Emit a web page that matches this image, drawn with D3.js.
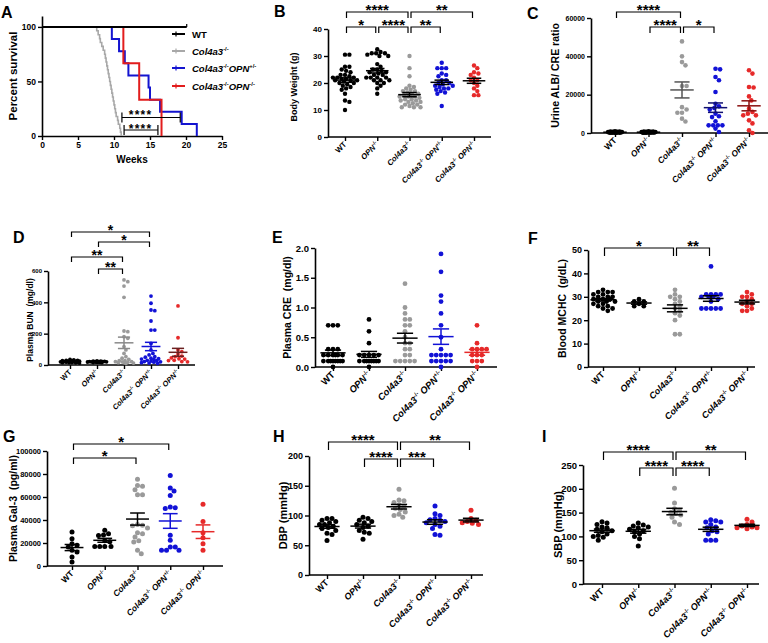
<!DOCTYPE html>
<html><head><meta charset="utf-8">
<script src="https://d3js.org/d3.v7.min.js"></script>
<style>
body{margin:0;background:#fff}
svg{display:block;font-family:"Liberation Sans",Arial,Helvetica,sans-serif}
text{font-weight:bold}
</style></head><body>
<svg id="fig" width="768" height="643"></svg>
<script>
// ================= DATA =================
const groups = ["WT","OPN-/-","Col4a3-/-","Col4a3-/- OPN+/-","Col4a3-/- OPN-/-"];
const groupColors = ["#000000","#000000","#9a9a9a","#1212d6","#e62a2a"];

// Panel A: Kaplan-Meier survival (death times in weeks)
const survivalNames = ["WT","Col4a3-/-","Col4a3-/-OPN+/-","Col4a3-/-OPN-/-"];
const survivalColors = ["#000000","#a8a8a8","#1414d0","#e21d1d"];
const survDeathWT = [];
const survCensorWT = [20.1];
const survDeathCol = [7.6,7.8,8.0,8.1,8.3,8.5,8.7,8.8,8.9,9.0,9.1,9.2,9.3,9.4,9.5,9.6,9.7,9.8,9.9,10.0,10.1,10.2,10.3,10.5,10.6,10.8,10.9,11.0];
const survDeathHet = [9.7,10.7,11.5,12.0,14.8,15.0,16.4,19.4,21.5];
const survDeathKO = [11.3,13.5,16.6];
const survWeekTicks = [0,5,10,15,20,25];
const survPctTicks = [0,50,100];
const survSig = [{from:11.1,to:19.2,starAt:13.6,label:"****",lvl:0},{from:11.4,to:16.1,starAt:13.6,label:"****",lvl:1}];

// Panel B: body weight (g)
const bodyWeight = [
  [30.5,30.5,26,26,25,24.5,24,23,23,22.5,22,22,22,21.5,21.5,21,21,21,20.5,20,20,19.5,19,18.5,18,17.5,16,13.5,13,10],
  [32.5,31.5,31,31,31,30.5,30,30,22,22,21,27,23,26,25,25,24.5,24,24,23.5,23,22,22,21,21,20,20,19,18,16],
  [30,25.5,22.5,19,18.5,18,17.5,17,17,16.5,16,16,15.5,15,15,15,14.5,14,14,13.5,13.5,13,13,12.5,12,12,11.5,11,11,11],
  [27.5,25.5,25.5,25.5,23.5,23,22.5,21,21,20,20,19.5,19,19,18.5,18,18,17.5,17,16.5,16,11.5],
  [26.5,25.5,24,23.5,23,22,21,21,20,19,18,17,15.5,15.5]
];
const bodyWeightSig = [{a:0,b:2,label:"****",lvl:0},{a:2,b:4,label:"**",lvl:0},{a:0,b:1,label:"*",lvl:1},{a:1,b:2,label:"****",lvl:1},{a:2,b:3,label:"**",lvl:1}];

// Panel C: urine ALB/CRE ratio
const urineACR = [
  [900,800,700,650,600,550,500,500,450,400,400,350,300,300,250,200,200,150,100,100],
  [850,800,700,600,600,550,500,450,400,400,350,300,300,250,200,200,150,100],
  [47800,40000,37000,35300,24500,24500,13500,12300,10600,10600,7500,6000],
  [33500,33200,29200,27500,21400,15300,13900,13000,12200,10100,8700,8300,6100,4000,4000,4000,4000,2300,500],
  [32700,31000,24000,23700,19100,17000,12700,11000,10100,9200,9200,6600,5000,1400,0]
];
const urineACRSig = [{a:0,b:2,label:"****",lvl:0},{a:1,b:2,label:"****",lvl:1},{a:2,b:3,label:"*",lvl:1}];

// Panel D: plasma BUN (mg/dl)
const plasmaBUN = [
  [35,32,30,30,28,27,25,25,24,22,22,20,20,18,18,16,15,15,14,12],
  [26,25,24,23,22,22,21,21,20,20,19,19,18,18,17,16,15],
  [543,532,504,432,217,213,181,170,117,96,74,53,43,36,28,28,21,21,15,15,12,10,20,18],
  [440,394,351,347,281,223,223,138,96,74,64,53,50,43,40,38,35,30,28,25,22,20,18,15,12,10],
  [377,174,96,85,70,57,53,45,40,38,30,28,22,20]
];
const plasmaBUNSig = [{a:0,b:3,label:"*",lvl:0},{a:1,b:3,label:"*",lvl:1},{a:0,b:2,label:"**",lvl:2},{a:1,b:2,label:"**",lvl:3}];

// Panel E: plasma CRE (mg/dl)
const plasmaCRE = [
  [0.7,0.7,0.7,0.3,0.3,0.3,0.2,0.2,0.2,0.2,0.2,0.2,0.1,0.1,0.1,0.1,0.1,0.1,0.1,0.1,0.0],
  [0.8,0.6,0.4,0.2,0.2,0.2,0.2,0.2,0.1,0.1,0.1,0.1,0.1,0.1,0.1,0.1,0.0],
  [1.4,1.0,0.9,0.8,0.8,0.7,0.7,0.6,0.5,0.4,0.4,0.3,0.3,0.2,0.2,0.1,0.1,0.1,0.1,0.1],
  [1.9,1.6,1.2,1.1,0.9,0.7,0.5,0.3,0.2,0.2,0.2,0.2,0.2,0.1,0.1,0.1,0.1,0.1,0.0],
  [0.7,0.4,0.3,0.3,0.3,0.3,0.2,0.2,0.2,0.1,0.1,0.1,0.0]
];
const plasmaCRESig = [];

// Panel F: blood MCHC (g/dL)
const bloodMCHC = [
  [33,32,32,32,31,31,30,30,30,29,29,29,28,28,28,27,27,26,26,25,25,24],
  [29,28,28,27,26,26],
  [33,31,30,30,29,28,27,26,25,24,23,22,20,14,14],
  [43,31,31,31,31,30,30,30,29,28,25,25,25,25,25],
  [32,31,30,30,29,28,27,27,26,25,24,24]
];
const bloodMCHCSig = [{a:0,b:2,label:"*",lvl:0},{a:2,b:3,label:"**",lvl:0}];

// Panel G: plasma Gal-3 (pg/ml)
const plasmaGal3 = [
  [29600,23800,19400,18000,16500,13600,12200,7800,3500],
  [31000,28000,27000,26500,22000,21000,17000,17000,17000,17000],
  [75400,70100,69300,66400,62000,62000,35000,33000,36000,35400,29000,25200,20900,13600,10700,28000,22000],
  [78800,67800,65200,61400,51300,50700,50000,26700,22300,16500,16500,13600,13600,13600],
  [53600,38800,29000,24600,19400,13600]
];
const plasmaGal3Sig = [{a:0,b:3,label:"*",lvl:0},{a:0,b:2,label:"*",lvl:1}];

// Panel H: DBP (mmHg)
const dbp = [
  [95,95,92,90,88,85,85,82,80,78,75,70,68,58],
  [97,95,92,90,88,85,82,80,75,72,70,60],
  [144,126,125,122,118,115,112,110,106,102,100,97],
  [116,103,100,95,93,92,90,88,85,82,78,68,67],
  [109,95,92,90,88,87,85]
];
const dbpSig = [{a:0,b:2,label:"****",lvl:0},{a:2,b:4,label:"**",lvl:0},{a:1,b:2,label:"****",lvl:1},{a:2,b:3,label:"***",lvl:1}];

// Panel I: SBP (mmHg)
const sbp = [
  [131,128,125,120,118,115,112,110,105,102,100,98,92],
  [128,124,122,120,118,115,112,110,105,100,95,80],
  [201,170,158,155,150,148,145,140,130,125],
  [135,133,130,130,125,120,118,112,110,105,92,92,92],
  [136,130,125,122,120,118,118,116]
];
const sbpSig = [{a:0,b:2,label:"****",lvl:0},{a:2,b:4,label:"**",lvl:0},{a:1,b:2,label:"****",lvl:1},{a:2,b:3,label:"****",lvl:1}];

// ================= DRAWING =================
const svg = d3.select("#fig");
const BLK = "#000";

function richText(sel, label, fs) {
  const parts = label.split(/(-\/-|\+\/-)/).filter(s => s !== "");
  let prevSup = false;
  parts.forEach(p => {
    if (p === "-/-" || p === "+/-") {
      sel.append("tspan").attr("font-size", fs*0.62).attr("font-style","normal")
        .attr("dy", prevSup ? 0 : -fs*0.42).text(p);
      prevSup = true;
    } else {
      const t = sel.append("tspan").text(p);
      if (prevSup) t.attr("dy", fs*0.42);
      if (/Col4a3|OPN/.test(p)) t.attr("font-style","italic");
      prevSup = false;
    }
  });
}

function styleAxis(g, fs) {
  g.selectAll("path.domain").attr("stroke", BLK).attr("stroke-width", 1.6);
  g.selectAll(".tick line").attr("stroke", BLK).attr("stroke-width", 1.4);
  g.selectAll(".tick text").attr("fill", BLK).attr("font-size", fs).attr("font-weight","bold")
    .attr("font-family", '"Liberation Sans",Arial,sans-serif');
}

function swarm(vals, y, r, maxW) {
  const pts = vals.map(v => ({v, py: y(v)})).sort((a,b) => d3.descending(a.v, b.v));
  const placed = [];
  const minD = 2*r*0.95, step = r*0.5;
  pts.forEach(p => {
    let best = null, bestClear = -1, found = false;
    for (let k = 0; k < 400; k++) {
      const off = (k % 2 === 1 ? 1 : -1) * Math.ceil(k/2) * step;
      if (Math.abs(off) > maxW) break;
      let clear = Infinity;
      placed.forEach(q => { clear = Math.min(clear, Math.hypot(q.dx - off, q.py - p.py)); });
      if (clear >= minD) { p.dx = off; found = true; break; }
      if (clear > bestClear + 0.3) { bestClear = clear; best = off; }
    }
    if (!found) p.dx = best;
    placed.push(p);
  });
  return placed;
}

function panelLetter(letter, x, y) {
  svg.append("text").attr("x", x).attr("y", y).attr("font-size", 16).attr("font-weight","bold").text(letter);
}

function yTitle(text, cx, cy, fs) {
  svg.append("text").attr("transform", `translate(${cx + 0.35*fs},${cy}) rotate(-90)`)
    .attr("text-anchor","middle").attr("font-size", fs).style("white-space","pre").text(text);
}

function starText(g, x, ly, label, fs) {
  g.append("text").attr("x", x).attr("y", ly - 3.2 + 0.44*fs).attr("text-anchor","middle")
    .attr("font-size", fs).text(label);
}

function dotPanel(L, values, sig) {
  const g = svg.append("g");
  const y = d3.scaleLinear().domain([0, L.yMax]).range([L.yBot, L.yTop]);
  const x = d3.scalePoint().domain(groups).range([L.first, L.last]);
  const step = x.step();

  // y axis
  const ya = g.append("g").attr("transform", `translate(${L.x0},0)`)
    .call(d3.axisLeft(y).tickValues(L.yTicks).tickSize(4).tickSizeOuter(0).tickPadding(2).tickFormat(L.fmt || d3.format("d")));
  styleAxis(ya, L.tickFs);
  // x axis
  g.append("line").attr("x1", L.x0).attr("x2", L.x1).attr("y1", L.yBot).attr("y2", L.yBot)
    .attr("stroke", BLK).attr("stroke-width", 1.6);
  const xa = g.append("g").attr("transform", `translate(0,${L.yBot})`)
    .call(d3.axisBottom(x).tickSize(4).tickSizeOuter(0).tickFormat(""));
  xa.select("path.domain").remove();
  styleAxis(xa, L.xFs);
  groups.forEach(gr => {
    const t = g.append("text").attr("text-anchor","end").attr("font-size", L.xFs)
      .attr("transform", `translate(${x(gr) + 0.25*L.xFs},${L.yBot + 6 + 0.25*L.xFs}) rotate(-45)`);
    richText(t, gr, L.xFs);
  });

  // dots
  values.forEach((vals, i) => {
    const cx = x(groups[i]);
    const pts = swarm(vals, y, L.r, L.maxW);
    g.append("g").selectAll("circle").data(pts).join("circle")
      .attr("cx", d => cx + d.dx).attr("cy", d => d.py).attr("r", L.r)
      .attr("fill", groupColors[i]);
  });
  // mean +- SEM
  values.forEach((vals, i) => {
    const cx = x(groups[i]);
    const m = d3.mean(vals), se = d3.deviation(vals) / Math.sqrt(vals.length);
    const c = L.meanColors[i];
    const mw = step*0.7, cw = step*0.45;
    const lg = g.append("g").attr("stroke", c).attr("stroke-width", 1.5).attr("fill","none");
    lg.append("line").attr("x1", cx - mw/2).attr("x2", cx + mw/2).attr("y1", y(m)).attr("y2", y(m));
    lg.append("line").attr("x1", cx).attr("x2", cx).attr("y1", y(m - se)).attr("y2", y(m + se));
    [m - se, m + se].forEach(v => lg.append("line").attr("x1", cx - cw/2).attr("x2", cx + cw/2).attr("y1", y(v)).attr("y2", y(v)));
  });

  // brackets
  sig.forEach(s => {
    const ly = L.levels[s.lvl];
    const xa0 = x(groups[s.a]) + 1.5, xb0 = x(groups[s.b]) - 1.5;
    g.append("path").attr("d", `M${xa0},${ly + L.leg}V${ly}H${xb0}V${ly + L.leg}`)
      .attr("fill","none").attr("stroke", BLK).attr("stroke-width", 1.2);
    starText(g, (xa0 + xb0)/2, ly, s.label, L.starFs);
  });

  panelLetter(L.letter, L.lx, L.ly);
  yTitle(L.title, L.tx, (L.yTop + L.yBot)/2 + (L.tdy || 0), L.titleFs);
}

// ---------- Panel A ----------
(function(){
  const g = svg.append("g");
  const x = d3.scaleLinear().domain([0, 25]).range([42, 222]);
  const y = d3.scaleLinear().domain([0, 110]).range([136, 16]);
  const ya = g.append("g").attr("transform","translate(42,0)")
    .call(d3.axisLeft(y).tickValues(survPctTicks).tickSize(4).tickSizeOuter(0).tickPadding(2));
  styleAxis(ya, 8.5);
  const xa = g.append("g").attr("transform","translate(0,136)")
    .call(d3.axisBottom(x).tickValues(survWeekTicks).tickSize(4).tickSizeOuter(0).tickPadding(2));
  styleAxis(xa, 8.5);

  function km(deaths, censors) {
    const n = deaths.length + censors.length;
    let s = 100;
    const pts = [[0, 100]];
    const times = Array.from(new Set(deaths)).sort((a,b) => a - b);
    times.forEach(t => {
      const d = deaths.filter(v => v === t).length;
      const atRisk = n - deaths.filter(v => v < t).length - censors.filter(v => v < t).length;
      pts.push([t, s]);
      s = s * (1 - d/atRisk);
      pts.push([t, s]);
    });
    const end = d3.max(censors.concat(deaths));
    if (censors.length && end > (times.length ? times[times.length-1] : 0)) pts.push([end, s]);
    return pts;
  }
  const line = d3.line().x(d => x(d[0])).y(d => y(d[1]));
  const curves = [
    {pts: km(survDeathCol, []), c: survivalColors[1], w: 1.6},
    {pts: km(survDeathHet, []), c: survivalColors[2], w: 2},
    {pts: km(survDeathKO, []), c: survivalColors[3], w: 2},
    {pts: km(survDeathWT, survCensorWT), c: survivalColors[0], w: 2}
  ];
  curves.forEach(cv => g.append("path").attr("d", line(cv.pts)).attr("fill","none")
    .attr("stroke", cv.c).attr("stroke-width", cv.w));
  // censor mark WT
  survCensorWT.forEach(t => g.append("line").attr("x1", x(t)).attr("x2", x(t)).attr("y1", y(100)).attr("y2", y(100) - 3)
    .attr("stroke", BLK).attr("stroke-width", 1.2));

  // significance brackets
  const lv = [117.5, 130];
  const starBase = [1, 3];
  survSig.forEach(s => {
    const ly = lv[s.lvl];
    const pa = g.append("g").attr("stroke", BLK).attr("stroke-width", 1.2);
    pa.append("line").attr("x1", x(s.from)).attr("x2", x(s.to)).attr("y1", ly).attr("y2", ly);
    [s.from, s.to].forEach(t => pa.append("line").attr("x1", x(t)).attr("x2", x(t)).attr("y1", ly - 5).attr("y2", ly + 5));
    g.append("text").attr("x", x(s.starAt) + 0.6).attr("y", ly + starBase[s.lvl]).attr("text-anchor","middle")
      .attr("font-size", 12).attr("letter-spacing", 1.2).text(s.label);
  });

  // legend
  const legY = [34, 51, 68, 86];
  survivalNames.forEach((nm, i) => {
    g.append("line").attr("x1", 172).attr("x2", 185).attr("y1", legY[i]).attr("y2", legY[i])
      .attr("stroke", survivalColors[i]).attr("stroke-width", 2);
    g.append("line").attr("x1", 176).attr("x2", 176).attr("y1", legY[i] - 2.5).attr("y2", legY[i] + 2.5)
      .attr("stroke", survivalColors[i]).attr("stroke-width", 1.2);
    const t = g.append("text").attr("x", 192).attr("y", legY[i] + 3.5).attr("font-size", 9.5);
    richText(t, nm, 9.5);
  });

  g.append("text").attr("x", 132).attr("y", 163).attr("text-anchor","middle").attr("font-size", 10).text("Weeks");
  panelLetter("A", 1, 18);
  yTitle("Percent survival", 13, 76, 11.5);
})();

// ---------- Dot panels ----------
const BL = ["#000","#000","#000","#000","#000"];
dotPanel({letter:"B", lx:274, ly:17, x0:328, x1:491, first:345, last:474, yTop:29, yBot:137, yMax:40,
  yTicks:[0,10,20,30,40], tickFs:8, xFs:7.8, r:2.2, maxW:13, meanColors:BL,
  levels:[12,27], leg:6, starFs:15, title:"Body Weight (g)", tx:294, titleFs:9, tdy:4}, bodyWeight, bodyWeightSig);

dotPanel({letter:"C", lx:527, ly:19, x0:591, x1:768, first:615, last:749, yTop:18, yBot:133, yMax:60000,
  yTicks:[0,20000,40000,60000], tickFs:7, xFs:8.5, r:2.3, maxW:8,
  meanColors:["#000","#000","#555","#101070","#8a1010"],
  levels:[12,27], leg:6, starFs:15, title:"Urine ALB/ CRE ratio", tx:555, titleFs:10.5}, urineACR, urineACRSig);

dotPanel({letter:"D", lx:13, ly:243, x0:48, x1:195, first:70, last:178, yTop:271, yBot:365, yMax:600,
  yTicks:[0,200,400,600], tickFs:6, xFs:7.5, r:1.9, maxW:10,
  meanColors:["#000","#000","#8a8a8a","#1212d6","#6a2020"],
  levels:[232,242,257,269], leg:5, starFs:14, title:"Plasma BUN  (mg/dl)", tx:30, titleFs:8.5, tdy:2}, plasmaBUN, plasmaBUNSig);

dotPanel({letter:"E", lx:272, ly:243, x0:315, x1:497, first:333, last:477, yTop:248, yBot:367, yMax:2,
  yTicks:[0,0.5,1,1.5,2], fmt:d3.format(".1f"), tickFs:9.5, xFs:9.5, r:2.4, maxW:12,
  meanColors:["#000","#000","#000","#1212d6","#e62a2a"],
  levels:[], leg:6, starFs:15, title:"Plasma CRE  (mg/dl)", tx:287, titleFs:10.5}, plasmaCRE, plasmaCRESig);

dotPanel({letter:"F", lx:528, ly:244, x0:588, x1:755, first:603, last:747, yTop:250, yBot:367, yMax:50,
  yTicks:[0,10,20,30,40,50], tickFs:9, xFs:9, r:2.4, maxW:12, meanColors:BL,
  levels:[248], leg:8, starFs:15, title:"Blood MCHC  (g/dL)", tx:562, titleFs:10.5}, bloodMCHC, bloodMCHCSig);

dotPanel({letter:"G", lx:3, ly:442, x0:47, x1:223, first:72, last:203, yTop:451, yBot:566, yMax:100000,
  yTicks:[0,20000,40000,60000,80000,100000], tickFs:7.5, xFs:8.5, r:2.5, maxW:12,
  meanColors:["#000","#000","#000","#1212d6","#e62a2a"],
  levels:[444,458], leg:6, starFs:15, title:"Plasma Gal-3  (pg/ml)", tx:13, titleFs:10.5}, plasmaGal3, plasmaGal3Sig);

dotPanel({letter:"H", lx:273, ly:442, x0:309, x1:483, first:327, last:471, yTop:456, yBot:575, yMax:200,
  yTicks:[0,50,100,150,200], tickFs:9, xFs:9, r:2.5, maxW:12, meanColors:BL,
  levels:[442,459], leg:8, starFs:15, title:"DBP (mmHg)", tx:283, titleFs:11}, dbp, dbpSig);

dotPanel({letter:"I", lx:542, ly:442, x0:583, x1:759, first:602, last:747, yTop:465, yBot:584, yMax:250,
  yTicks:[0,50,100,150,200,250], tickFs:9.5, xFs:9.3, r:2.5, maxW:12, meanColors:BL,
  levels:[452,468], leg:8, starFs:15, title:"SBP (mmHg)", tx:558, titleFs:11}, sbp, sbpSig);
</script>
</body></html>
